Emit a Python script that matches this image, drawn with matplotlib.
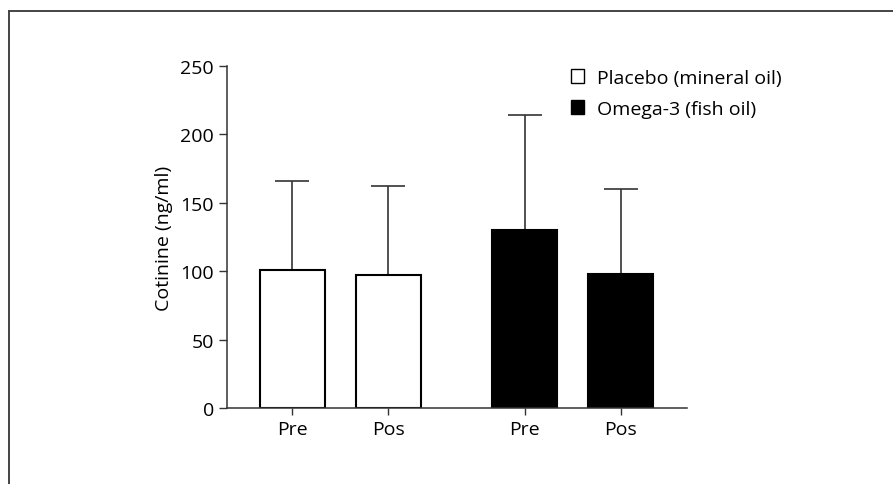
import matplotlib.pyplot as plt
from matplotlib.patches import Patch
from matplotlib.lines import Line2D

plt.rcParams['font.family'] = ['Open Sans', 'DejaVu Sans']

tick_labels = ['Pre', 'Pos', 'Pre', 'Pos']
positions = [0, 1, 2.42, 3.42]
means = [101, 97, 130, 98]
sd_up = [65, 65, 84, 62]
face = ['white', 'white', 'black', 'black']
groups = ['Placebo (mineral oil)', 'Omega-3 (fish oil)']

fig = plt.figure(figsize=(8.93, 4.85), dpi=100)
ax = fig.add_axes([0.2542, 0.1561, 0.7693 - 0.2542, 0.8625 - 0.1561])

ax.errorbar(positions, means, yerr=[[0] * 4, sd_up], fmt='none',
            ecolor='#333333', elinewidth=1.2, capsize=12, capthick=1.2, zorder=1)
ax.bar(positions, means, width=0.68, color=face, edgecolor='black',
       linewidth=1.5, zorder=2)

ax.set_xlim(-0.68, 4.11)
ax.set_ylim(0, 250)
ax.set_yticks([0, 50, 100, 150, 200, 250])
ax.set_xticks(positions)
ax.set_xticklabels(tick_labels)
ax.set_ylabel('Cotinine (ng/ml)', fontsize=14, labelpad=5)
ax.tick_params(axis='both', labelsize=14, length=5, width=1, color='#333333')
ax.tick_params(axis='y', length=6)
for s in ['top', 'right']:
    ax.spines[s].set_visible(False)
for s in ['left', 'bottom']:
    ax.spines[s].set_linewidth(1.1)
    ax.spines[s].set_color('#333333')

handles = [Patch(facecolor='white', edgecolor='black', linewidth=1.0),
           Patch(facecolor='black', edgecolor='black', linewidth=1.0)]
fig.legend(handles, groups, loc='upper left', bbox_to_anchor=(0.622, 0.888),
           frameon=False, fontsize=14, handlelength=0.68, handleheight=0.68,
           handletextpad=0.68, labelspacing=0.66, borderpad=0.3)

# outer frame (only top and left edge visible in the crop)
fig.add_artist(Line2D([0.0105, 1.0], [1 - 12 / 485, 1 - 12 / 485],
                      transform=fig.transFigure, color='#444444', linewidth=1.4))
fig.add_artist(Line2D([0.0105, 0.0105], [0.0, 1 - 12 / 485],
                      transform=fig.transFigure, color='#444444', linewidth=1.4))

fig.savefig('out.png', dpi=100)
